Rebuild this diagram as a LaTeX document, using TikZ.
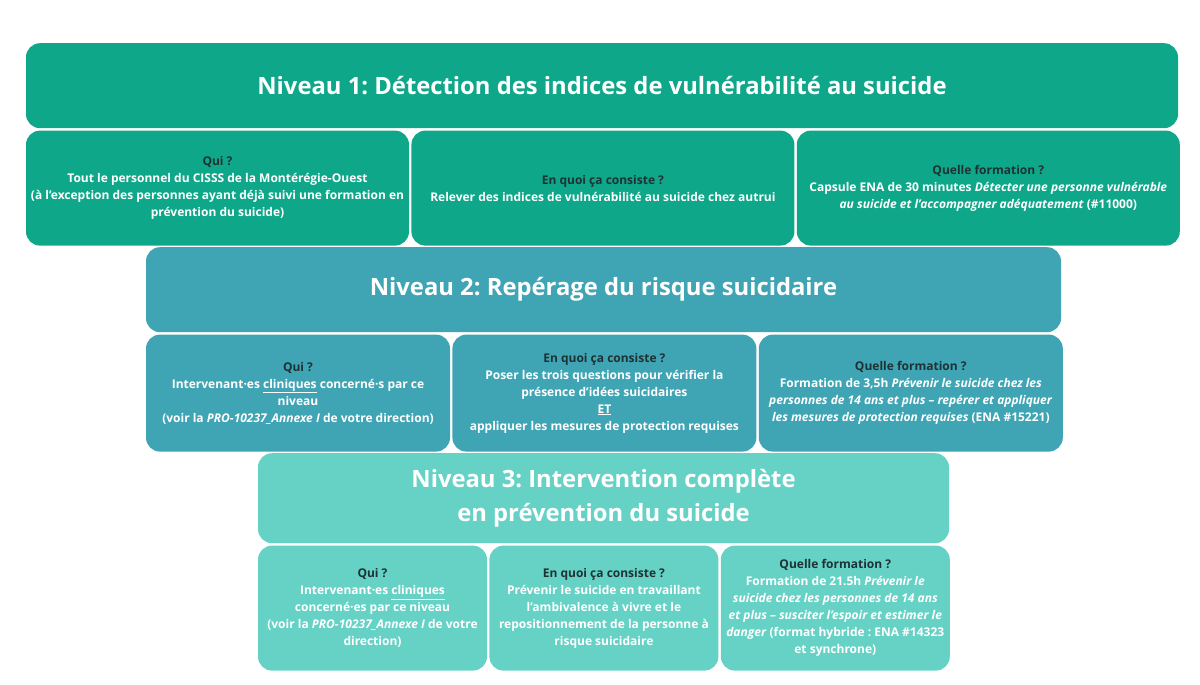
\documentclass[tikz,border=0pt]{standalone}
\usepackage{fontspec}
\setmainfont{Open Sans}[BoldFont={Open Sans Bold}, BoldItalicFont={Open Sans Bold Italic}]
\frenchspacing
\usetikzlibrary{positioning}
\definecolor{vert}{RGB}{15,167,137}
\definecolor{bleu}{RGB}{63,165,180}
\definecolor{turq}{RGB}{102,210,198}
\definecolor{encre}{RGB}{30,50,52}
\newcommand{\rubrique}[1]{{\color{encre}#1}}

\begin{document}
\begin{tikzpicture}[x=1pt,y=-1pt,node distance=2pt,
	niveau/.style={rounded corners=14pt, inner sep=0, align=center, text=white, font=\bfseries\fontsize{23.8}{34}\selectfont},
	case/.style={rounded corners=14pt, inner sep=0, align=center, text=white, font=\bfseries\fontsize{12}{17}\selectfont}]

	\useasboundingbox (0,0) rectangle (1200,685);

	% niveau 1
	\node [niveau, fill=vert, minimum width=1152pt, minimum height=85pt, anchor=north] (niv1) at (602,43)
		{Niveau 1: Détection des indices de vulnérabilité au suicide};
	\node [case, fill=vert, minimum width=383pt, minimum height=115pt, below right=2pt and 0pt of niv1.south west] (qui1)
		{\rubrique{Qui ?}\\ Tout le personnel du CISSS de la Montérégie-Ouest\\ (à l'exception des personnes ayant déjà suivi une formation en\\ prévention du suicide)};
	\node [case, fill=vert, minimum width=383pt, minimum height=115pt, right=of qui1] (quoi1)
		{\rubrique{En quoi ça consiste ?}\\ Relever des indices de vulnérabilité au suicide chez autrui};
	\node [case, fill=vert, minimum width=383pt, minimum height=115pt, right=of quoi1] (form1)
		{\rubrique{Quelle formation ?}\\ Capsule ENA de 30 minutes \textit{Détecter une personne vulnérable}\\ \textit{au suicide et l’accompagner adéquatement} (\#11000)};

	% niveau 2
	\node [niveau, fill=bleu, minimum width=915pt, minimum height=85pt, anchor=north] (niv2) at (603.5,247)
		{Niveau 2: Repérage du risque suicidaire};
	\node [case, fill=bleu, minimum width=304pt, minimum height=117pt, below right=2pt and 0pt of niv2.south west] (qui2)
		{\rubrique{Qui ?}\\ Intervenant·es \underline{cliniques} concerné·s par ce\\ niveau\\ (voir la \textit{PRO-10237\_Annexe I} de votre direction)};
	\node [case, fill=bleu, minimum width=304pt, minimum height=117pt, right=of qui2] (quoi2)
		{\rubrique{En quoi ça consiste ?}\\ Poser les trois questions pour vérifier la\\ présence d'idées suicidaires\\ \underline{ET}\\ appliquer les mesures de protection requises};
	\node [case, fill=bleu, minimum width=304pt, minimum height=117pt, right=of quoi2] (form2)
		{\rubrique{Quelle formation ?}\\ Formation de 3,5h \textit{Prévenir le suicide chez les}\\ \textit{personnes de 14 ans et plus -- repérer et appliquer}\\ \textit{les mesures de protection requises} (ENA \#15221)};

	% niveau 3
	\node [niveau, fill=turq, minimum width=691pt, minimum height=90pt, anchor=north] (niv3) at (603.5,453)
		{Niveau 3: Intervention complète\\ en prévention du suicide};
	\node [case, fill=turq, minimum width=229pt, minimum height=125pt, below right=2pt and 0pt of niv3.south west] (qui3)
		{\rubrique{Qui ?}\\ Intervenant·es \underline{cliniques}\\ concerné·es par ce niveau\\ (voir la \textit{PRO-10237\_Annexe I} de votre\\ direction)};
	\node [case, fill=turq, minimum width=229pt, minimum height=125pt, right=of qui3] (quoi3)
		{\rubrique{En quoi ça consiste ?}\\ Prévenir le suicide en travaillant\\ l'ambivalence à vivre et le\\ repositionnement de la personne à\\ risque suicidaire};
	\node [case, fill=turq, minimum width=229pt, minimum height=125pt, right=of quoi3] (form3)
		{\rubrique{Quelle formation ?}\\ Formation de 21.5h \textit{Prévenir le}\\ \textit{suicide chez les personnes de 14 ans}\\ \textit{et plus -- susciter l'espoir et estimer le}\\ \textit{danger} (format hybride : ENA \#14323\\ et synchrone)};
\end{tikzpicture}
\end{document}
